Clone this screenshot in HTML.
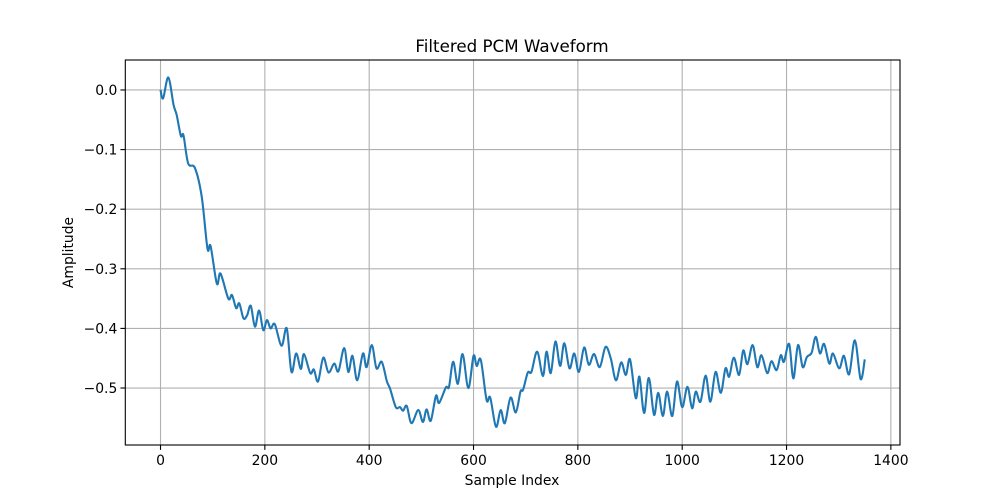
<!DOCTYPE html>
<html><head><meta charset="utf-8"><style>
body{margin:0;background:#fff}
svg{display:block;font-family:"DejaVu Sans","Liberation Sans",sans-serif}
</style></head><body>
<svg id="chart" width="1000" height="500" viewBox="0 0 1000 500">
<rect width="1000" height="500" fill="#fff"/>
<g id="grid"></g>
<g id="ticks"></g>
<path id="line" fill="none" stroke="#1f77b4" stroke-width="2.1" stroke-linejoin="round"/>
<rect x="125.3" y="60" width="774.7" height="385" fill="none" stroke="#000" stroke-width="1.1"/>
<text x="512" y="52" font-size="16.7" text-anchor="middle">Filtered PCM Waveform</text>
<text x="512" y="485" font-size="13.9" text-anchor="middle">Sample Index</text>
<text transform="translate(73,252.5) rotate(-90)" font-size="13.9" text-anchor="middle">Amplitude</text>
</svg>
<script>
const sampleIdx=[0,5,15,25,31,39,44,53,66,79,90,96,108,115,130,137,145,151,159,166,173,181,189,197,204,211,219,232,242,251,260,269,275,287,294,302,312,322,333,341,352,360,368,377,388,395,405,414,424,434,440,451,459,465,472,481,494,503,510,518,528,534,547,553,561,570,579,590,600,606,614,625,632,643,652,660,671,681,690,695,704,711,722,733,740,748,757,766,774,784,793,802,812,821,831,842,853,863,873,883,892,900,911,918,927,936,946,954,963,971,981,990,1000,1010,1019,1026,1035,1045,1054,1064,1074,1083,1090,1099,1109,1117,1125,1135,1144,1152,1163,1171,1181,1189,1195,1205,1213,1222,1231,1239,1248,1256,1264,1272,1282,1289,1301,1310,1320,1331,1342,1350];
const amplitude=[0,-0.014,0.021,-0.025,-0.042,-0.077,-0.076,-0.123,-0.131,-0.179,-0.266,-0.262,-0.325,-0.308,-0.350,-0.344,-0.366,-0.358,-0.383,-0.378,-0.362,-0.397,-0.370,-0.403,-0.386,-0.400,-0.393,-0.429,-0.400,-0.473,-0.442,-0.468,-0.443,-0.475,-0.469,-0.489,-0.449,-0.474,-0.459,-0.472,-0.433,-0.473,-0.446,-0.487,-0.442,-0.465,-0.428,-0.467,-0.456,-0.489,-0.501,-0.532,-0.532,-0.538,-0.530,-0.559,-0.537,-0.557,-0.536,-0.555,-0.513,-0.525,-0.499,-0.498,-0.456,-0.493,-0.443,-0.500,-0.446,-0.463,-0.453,-0.520,-0.516,-0.565,-0.537,-0.559,-0.516,-0.541,-0.506,-0.503,-0.474,-0.473,-0.439,-0.480,-0.439,-0.475,-0.422,-0.463,-0.425,-0.467,-0.442,-0.473,-0.432,-0.461,-0.443,-0.465,-0.431,-0.450,-0.487,-0.457,-0.478,-0.452,-0.517,-0.481,-0.542,-0.483,-0.545,-0.508,-0.547,-0.506,-0.547,-0.489,-0.532,-0.498,-0.534,-0.506,-0.523,-0.479,-0.523,-0.473,-0.508,-0.467,-0.481,-0.449,-0.478,-0.437,-0.460,-0.428,-0.465,-0.445,-0.475,-0.455,-0.470,-0.445,-0.456,-0.426,-0.484,-0.428,-0.465,-0.448,-0.441,-0.414,-0.442,-0.426,-0.459,-0.442,-0.467,-0.446,-0.477,-0.420,-0.485,-0.452];
const xTicks=[0,200,400,600,800,1000,1200,1400];
const yTicks=[0,-0.1,-0.2,-0.3,-0.4,-0.5];
const yTickLabels=["0.0","−0.1","−0.2","−0.3","−0.4","−0.5"];
const L=125.3,R=900,T=60,B=445;
const xMin=-67.5,xMax=1417.5,yMin=-0.5956,yMax=0.0503;
const sx=v=>L+(v-xMin)/(xMax-xMin)*(R-L);
const sy=v=>B-(v-yMin)/(yMax-yMin)*(B-T);
const NS="http://www.w3.org/2000/svg";
const grid=document.getElementById('grid'),ticks=document.getElementById('ticks');
function mk(tag,attrs,parent){const e=document.createElementNS(NS,tag);for(const k in attrs)e.setAttribute(k,attrs[k]);parent.appendChild(e);return e;}
xTicks.forEach(v=>{const x=sx(v);
 const g=mk('line',{x1:x,x2:x,y1:T,y2:B,stroke:'#b0b0b0','stroke-width':1.1},grid);
 
 
 const t=mk('line',{x1:x,x2:x,y1:B,y2:B+4.9,stroke:'#000','stroke-width':1.1},ticks);
 
 
 const l=mk('text',{x:x,y:B+20,'font-size':13.9,'text-anchor':'middle'},ticks);l.textContent=v;
 
 
});
yTicks.forEach((v,i)=>{const y=sy(v);
 const g=mk('line',{x1:L,x2:R,y1:y,y2:y,stroke:'#b0b0b0','stroke-width':1.1},grid);
 
 
 const t=mk('line',{x1:L-4.9,x2:L,y1:y,y2:y,stroke:'#000','stroke-width':1.1},ticks);
 
 
 const l=mk('text',{x:L-8,y:y+5,'font-size':13.9,'text-anchor':'end'},ticks);l.textContent=yTickLabels[i];
 
 
});
const P=sampleIdx.map((s,i)=>[sx(s),sy(amplitude[i])]);
let d='M'+P[0][0].toFixed(2)+','+P[0][1].toFixed(2);
for(let i=0;i<P.length-1;i++){
 const p0=P[Math.max(0,i-1)],p1=P[i],p2=P[i+1],p3=P[Math.min(P.length-1,i+2)];
 const c1=[p1[0]+(p2[0]-p0[0])/6,p1[1]+(p2[1]-p0[1])/6];
 const c2=[p2[0]-(p3[0]-p1[0])/6,p2[1]-(p3[1]-p1[1])/6];
 d+=' C'+c1[0].toFixed(2)+','+c1[1].toFixed(2)+' '+c2[0].toFixed(2)+','+c2[1].toFixed(2)+' '+p2[0].toFixed(2)+','+p2[1].toFixed(2);
}
document.getElementById('line').setAttribute('d',d);
</script>
</body></html>
